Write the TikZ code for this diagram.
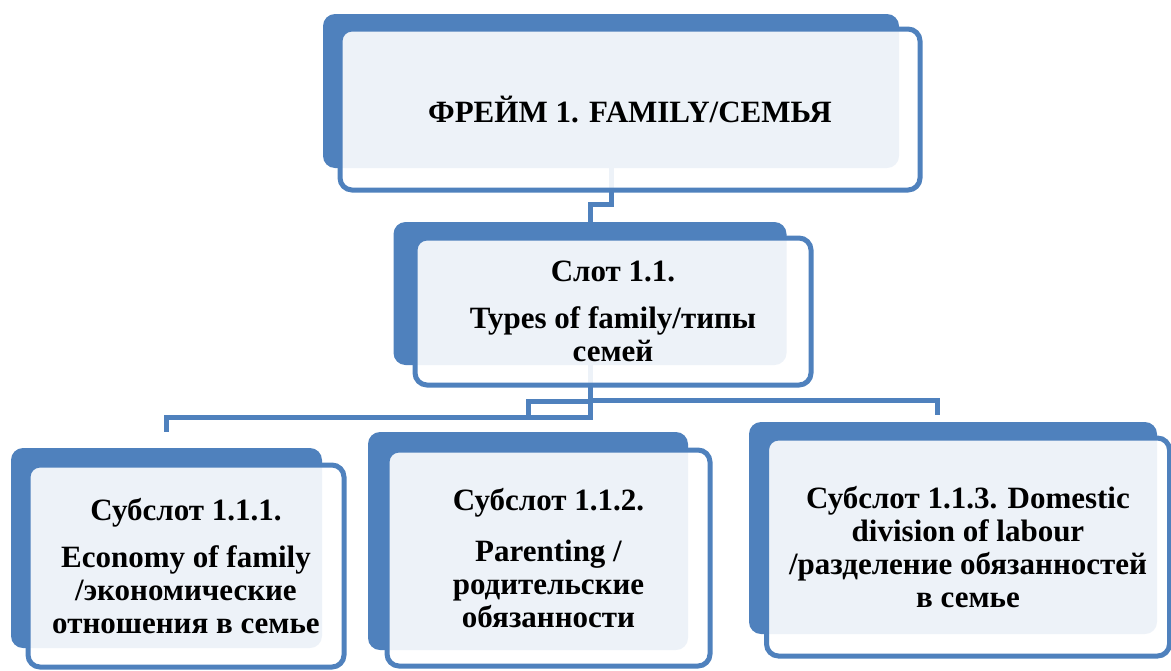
\documentclass[tikz,border=0pt]{standalone}
\usepackage{fontspec}
\setmainfont{Liberation Serif}
\definecolor{boxblue}{RGB}{79,129,189}
\begin{document}
\begin{tikzpicture}[
  x=1pt, y=-1pt,
  every node/.style={font=\bfseries\fontsize{31}{33}\selectfont},
  back/.style={rectangle, fill=boxblue, rounded corners=12pt, inner sep=0pt},
  front/.style={rectangle, draw=boxblue, line width=5pt, fill=white, fill opacity=0.9, text opacity=1, rounded corners=12pt, inner sep=0pt, align=center},
  conn/.style={draw=boxblue, line width=5pt},
]
\useasboundingbox (0,0) rectangle (1171,670);

% Row 1: Frame (back plate)
\node[back, minimum width=576pt, minimum height=154pt] (frameB) at (611,91) {};

% Row 2: Slot (back plate)
\node[back, minimum width=393pt, minimum height=143pt] (slotB) at (590,293.5) {};

% Row 3: Subslots (back plates)
\node[back, minimum width=311pt, minimum height=200pt] (sub1B) at (166.5,548) {};
\node[back, minimum width=320pt, minimum height=218pt] (sub2B) at (528,541) {};
\node[back, minimum width=408pt, minimum height=212pt] (sub3B) at (953,528) {};

% Connectors
\draw[conn] (frameB.south) -- ++(0,36) -| (slotB.north);
\draw[conn] (slotB.south) -- ++(0,52) -| ([yshift=16pt]sub1B.north);
\draw[conn] (slotB.south) -- ++(0,36) -| ([yshift=12pt]sub2B.north);
\draw[conn] (slotB.south) -- ++(0,35) -| ([xshift=-16pt,yshift=7pt]sub3B.north);

% Front boxes with text
\node[front, minimum width=580pt, minimum height=161pt] (frame) at (630,109.5) {ФРЕЙМ 1. FAMILY/СЕМЬЯ};
\node[front, minimum width=396pt, minimum height=147pt] (slot) at (613,311.5) {Слот 1.1.\\[14pt]Types of family/типы\\семей};
\node[front, minimum width=316pt, minimum height=202pt] (sub1) at (186,566) {Субслот 1.1.1.\\[14pt]Economy of family\\/экономические\\отношения в семье};
\node[front, minimum width=323pt, minimum height=216pt] (sub2) at (548.5,558) {Субслот 1.1.2.\\[18pt]Parenting /\\родительские\\обязанности};
\node[front, minimum width=403pt, minimum height=218pt] (sub3) at (968,547) {Субслот 1.1.3. Domestic\\division of labour\\/разделение обязанностей\\в семье};

\end{tikzpicture}
\end{document}
